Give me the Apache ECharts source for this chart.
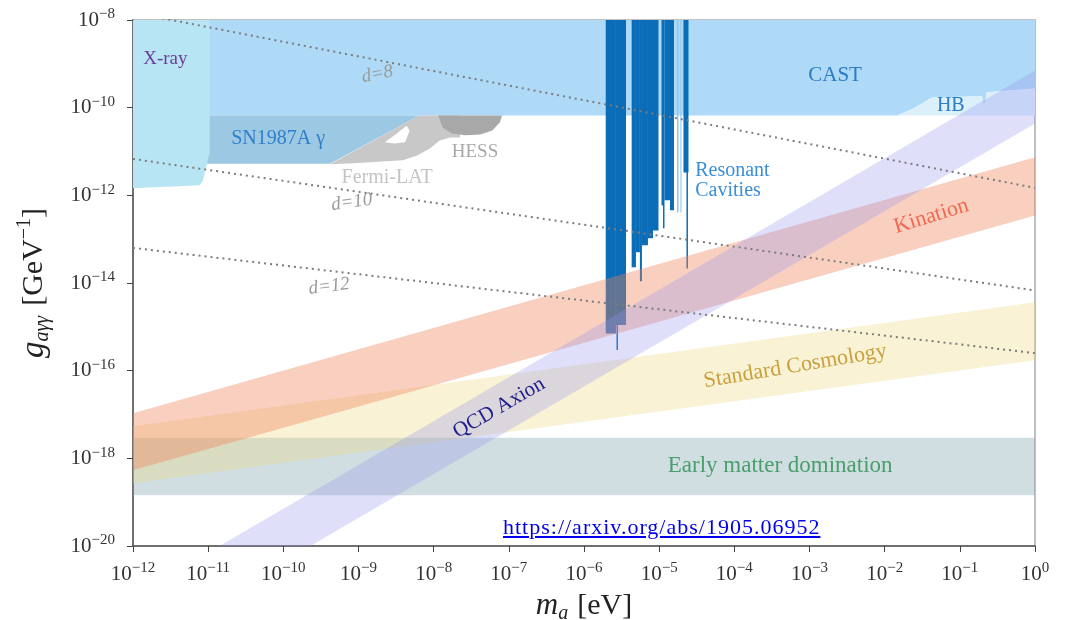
<!DOCTYPE html>
<html>
<head>
<meta charset="utf-8">
<script src="https://cdn.jsdelivr.net/npm/echarts@6/dist/echarts.min.js"></script>
<style>
  html, body { margin: 0; padding: 0; background: #fff; }
  #wrap { position: relative; width: 1065px; height: 620px; }
  #chart { width: 1065px; height: 620px; }
  #ref {
    position: absolute; left: 503px; top: 514px; letter-spacing: 1px;
    font: 22px "Liberation Serif", serif; color: #0000ee; text-decoration: underline;
  }
</style>
</head>
<body>
<div id="wrap">
  <div id="chart"></div>
  <a id="ref" href="https://arxiv.org/abs/1905.06952">https://arxiv.org/abs/1905.06952</a>
</div>
<script>
// all values are log10: x = log10(m_a / eV), y = log10(g / GeV^-1)
const massExp = [-12, -11, -10, -9, -8, -7, -6, -5, -4, -3, -2, -1, 0];
const couplingExp = [-20, -18, -16, -14, -12, -10, -8];

// excluded regions, outline points [log m, log g]
const castRegion = [[-12, -8], [0, -8], [0, -9.56], [-0.64, -9.65], [-0.667, -9.9], [-0.69, -9.9],
  [-0.705, -9.74], [-1.37, -9.77], [-1.62, -10.02], [-1.836, -10.18], [-12, -10.18]];
const hbRegion = [[-1.836, -10.18], [-1.62, -10.02], [-1.37, -9.77], [-0.705, -9.74], [-0.69, -9.9],
  [-0.667, -9.9], [-0.64, -9.65], [0, -9.56], [0, -10.18]];
const sn1987aRegion = [[-12, -10.18], [-8.19, -10.18], [-9.38, -11.28], [-12, -11.28]];
const fermiRegion = [[-9.38, -11.29], [-8.19, -10.18], [-7.65, -10.18], [-7.65, -10.68], [-7.78, -10.68],
  [-7.92, -10.75], [-8.05, -10.93], [-8.22, -11.09], [-8.41, -11.2], [-9.07, -11.27]];
const fermiGap = [[-8.65, -10.79], [-8.49, -10.59], [-8.36, -10.41], [-8.32, -10.52], [-8.38, -10.79], [-8.52, -10.82]];
const hessRegion = [[-7.94, -10.18], [-7.09, -10.18], [-7.12, -10.34], [-7.22, -10.52], [-7.38, -10.61],
  [-7.58, -10.63], [-7.76, -10.59], [-7.88, -10.45]];
const xrayRegion = [[-12, -8], [-10.98, -8], [-10.98, -11.02], [-11.07, -11.66], [-11.11, -11.77], [-12, -11.84]];

// resonant cavities: [log m from, log m to, lowest log g reached]
const cavityTop = -8;
const cavityBars = [
  [-5.711, -5.575, -15.15], [-5.575, -5.441, -14.96], [-5.568, -5.548, -15.53],
  [-5.366, -5.309, -13.64], [-5.309, -5.256, -13.30], [-5.256, -5.229, -13.96],
  [-5.229, -5.149, -13.14], [-5.149, -5.082, -12.98], [-5.082, -5.009, -12.80],
  [-4.969, -4.949, -12.23], [-4.949, -4.929, -12.75], [-4.929, -4.856, -12.11], [-4.856, -4.803, -12.34],
  [-4.677, -4.610, -11.48], [-4.637, -4.617, -13.67]
];
const cavityFaint = [[-4.763, -4.743, -12.39], [-4.717, -4.703, -12.39]];

// cosmology bands, edges given at both ends of the mass range
const bandMass = [-12, 0];
const qcdUpper = [-21.15, -9.15];
const qcdLower = [-22.36, -10.36];
const kinationUpper = [-16.97, -11.13];
const kinationLower = [-18.27, -12.46];
const standardUpper = [-17.27, -14.44];
const standardLower = [-18.57, -15.76];
const emdUpper = [-17.53, -17.53];
const emdLower = [-18.84, -18.84];

// operator dimension lines
const d8Line = [[-12, -7.83], [0, -11.83]];
const d10Line = [[-12, -11.17], [0, -14.17]];
const d12Line = [[-12, -13.2], [0, -15.6]];

const serif = '"Liberation Serif", "DejaVu Serif", serif';

const labels = [
  { text: 'X-ray', at: [-11.57, -8.9], color: '#6a3d9a', size: 19 },
  { text: 'CAST', at: [-2.66, -9.27], color: '#2b7cc4', size: 21 },
  { text: 'HB', at: [-1.12, -9.96], color: '#2b7cc4', size: 20 },
  { text: 'SN1987A γ', at: [-10.07, -10.71], color: '#2f80c8', size: 20 },
  { text: 'HESS', at: [-7.45, -11.01], color: '#a8a8a8', size: 19 },
  { text: 'Fermi-LAT', at: [-8.62, -11.6], color: '#c4c4c4', size: 20 },
  { text: 'Resonant', at: [-4.52, -11.43], color: '#3a8fd8', size: 20, align: 'left' },
  { text: 'Cavities', at: [-4.52, -11.89], color: '#3a8fd8', size: 20, align: 'left' },
  { text: 'Kination', at: [-1.38, -12.48], color: '#f06a4f', size: 22, rot: 17 },
  { text: 'Standard Cosmology', at: [-3.19, -15.9], color: '#c9a03c', size: 22, rot: 9.5 },
  { text: 'QCD Axion', at: [-7.13, -16.85], color: '#20208c', size: 21, rot: 30 },
  { text: 'Early matter domination', at: [-3.39, -18.18], color: '#4a9e6e', size: 23 },
  { text: 'd=8', at: [-8.75, -9.24], color: '#9a9a9a', size: 19, rot: 11, italic: true },
  { text: 'd=10', at: [-9.09, -12.16], color: '#9a9a9a', size: 19, rot: 8, italic: true },
  { text: 'd=12', at: [-9.39, -14.08], color: '#9a9a9a', size: 19, rot: 7, italic: true }
];

function polySeries(pts, color, z) {
  return {
    type: 'custom', coordinateSystem: 'cartesian2d', clip: true, silent: true, z: z,
    data: [[-6, -14]],
    renderItem: (params, api) => ({
      type: 'polygon',
      shape: { points: pts.map(p => api.coord(p)) },
      style: { fill: color }
    })
  };
}

function band(upper, lower) {
  const top = bandMass.map((m, i) => [m, upper[i]]);
  const bottom = bandMass.map((m, i) => [m, lower[i]]).reverse();
  return top.concat(bottom);
}

function barSeries(bars, color, z) {
  return {
    type: 'custom', coordinateSystem: 'cartesian2d', clip: true, silent: true, z: z,
    data: bars,
    encode: { x: [0, 1], y: 2 },
    renderItem: (params, api) => {
      const a = api.coord([api.value(0), cavityTop]);
      const b = api.coord([api.value(1), api.value(2)]);
      return { type: 'rect', shape: { x: a[0], y: a[1], width: b[0] - a[0], height: b[1] - a[1] }, style: { fill: color } };
    }
  };
}

function dotted(data) {
  return {
    type: 'line', data: data, symbol: 'none', silent: true, z: 6,
    lineStyle: { color: '#7c7c7c', width: 2, type: [2, 4] }
  };
}

const expLabel = v => {
  const s = v === 0 ? '0' : '−' + Math.abs(v);
  return '{b|10}{s|' + s + '}';
};
const tickRich = {
  b: { fontSize: 21, fontFamily: serif, color: '#333', lineHeight: 26 },
  s: { fontSize: 15, fontFamily: serif, color: '#333', lineHeight: 14, verticalAlign: 'top' }
};

const chart = echarts.init(document.getElementById('chart'));
chart.setOption({
  animation: false,
  grid: {
    left: 133, right: 30, top: 20, bottom: 74, outerBoundsMode: 'none',
    show: true, borderColor: '#aaa', borderWidth: 1.5, backgroundColor: 'transparent'
  },
  xAxis: {
    type: 'value', min: massExp[0], max: massExp[massExp.length - 1], interval: 1,
    name: '{i|m}{s|a}{w| }{n|[eV]}', nameLocation: 'middle', nameGap: 42,
    nameTextStyle: {
      fontFamily: serif, color: '#222',
      rich: {
        i: { fontSize: 31, fontStyle: 'italic', fontFamily: serif, lineHeight: 36 },
        s: { fontSize: 20, fontStyle: 'italic', fontFamily: serif, lineHeight: 20, verticalAlign: 'bottom' },
        w: { width: 9, fontSize: 10 },
        n: { fontSize: 30, fontFamily: serif, lineHeight: 36 }
      }
    },
    axisLine: { onZero: false, lineStyle: { color: '#555', width: 1.5 } },
    axisTick: { inside: false, length: 6, lineStyle: { color: '#444' } },
    axisLabel: { margin: 15, formatter: expLabel, rich: tickRich },
    splitLine: { show: false }
  },
  yAxis: {
    type: 'value', min: couplingExp[0], max: couplingExp[couplingExp.length - 1], interval: 2,
    name: '{i|g}{s|aγγ}{w| }{n|[GeV}{p|−1}{n|]}', nameLocation: 'middle', nameGap: 80,
    nameTextStyle: {
      fontFamily: serif, color: '#222',
      rich: {
        i: { fontSize: 33, fontStyle: 'italic', fontFamily: serif, lineHeight: 38 },
        s: { fontSize: 20, fontStyle: 'italic', fontFamily: serif, lineHeight: 20, verticalAlign: 'bottom' },
        w: { width: 10, fontSize: 10 },
        n: { fontSize: 30, fontFamily: serif, lineHeight: 38 },
        p: { fontSize: 20, fontFamily: serif, lineHeight: 20, verticalAlign: 'top' }
      }
    },
    axisLine: { show: true, onZero: false, lineStyle: { color: '#555', width: 1.5 } },
    axisTick: { show: true, inside: false, length: 6, lineStyle: { color: '#444' } },
    axisLabel: { margin: 18, formatter: expLabel, rich: tickRich },
    splitLine: { show: false }
  },
  series: [
    polySeries(castRegion, '#aedaf7', 1),
    polySeries(hbRegion, '#dcf0fb', 1),
    polySeries(sn1987aRegion, '#9cc8e3', 1),
    polySeries(fermiRegion, '#c8c8c8', 1),
    polySeries(fermiGap, '#ffffff', 1),
    polySeries(hessRegion, '#a8a8a8', 1),
    polySeries(xrayRegion, '#b8e5f3', 1),
    barSeries(cavityFaint, '#8ec6ee', 2),
    barSeries(cavityBars, '#0b6db8', 2),
    polySeries(band(emdUpper, emdLower), 'rgba(120,160,170,0.35)', 3),
    polySeries(band(standardUpper, standardLower), 'rgba(235,215,120,0.32)', 3),
    polySeries(band(kinationUpper, kinationLower), 'rgba(240,130,90,0.38)', 3),
    polySeries(band(qcdUpper, qcdLower), 'rgba(150,150,240,0.3)', 3),
    dotted(d8Line),
    dotted(d10Line),
    dotted(d12Line),
    {
      type: 'custom', coordinateSystem: 'cartesian2d', silent: true, z: 8,
      data: labels.map(l => l.at),
      renderItem: (params, api) => {
        const l = labels[params.dataIndex];
        const p = api.coord(l.at);
        return {
          type: 'text', x: p[0], y: p[1], rotation: (l.rot || 0) * Math.PI / 180,
          style: {
            text: l.text, fill: l.color, align: l.align || 'center', verticalAlign: 'middle',
            font: (l.italic ? 'italic ' : '') + l.size + 'px ' + serif
          }
        };
      }
    }
  ]
});
</script>
</body>
</html>
